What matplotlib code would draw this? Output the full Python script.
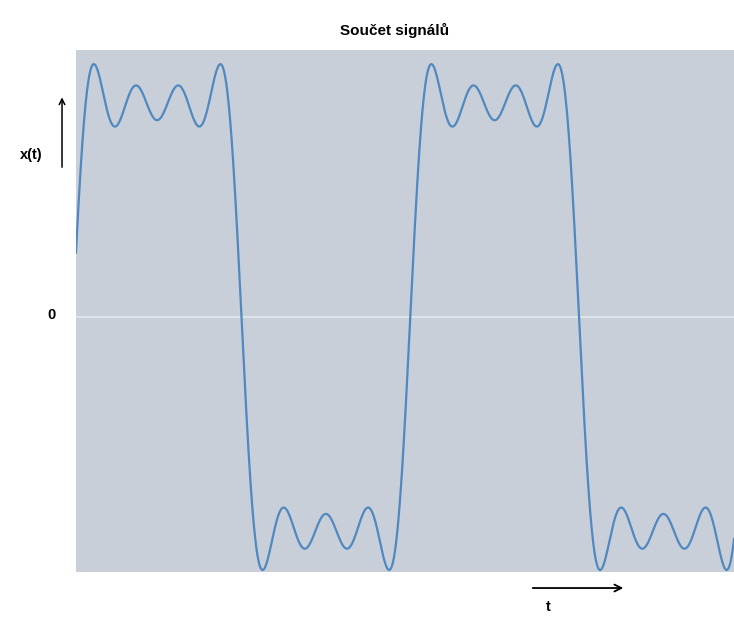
import numpy as np
import matplotlib.pyplot as plt

# odd harmonics that make up the sum (order, amplitude)
harmonics = [1, 3, 5, 7]
amplitudes = [1.0, 1/3, 1/5, 1/7]

title = "Součet signálů"
y_label = "x(t)"
x_label = "t"
zero_label = "0"

plt.rcParams['font.family'] = ['Liberation Sans', 'DejaVu Sans']

fig = plt.figure(figsize=(7.34, 6.18), dpi=100)
ax = fig.add_axes([0.1035, 0.0744, 0.8965, 0.8447])
ax.set_facecolor("#c8cfd9")

t0, t1 = 0.06, 12.31
t = np.linspace(t0, t1, 3000)
x = np.zeros_like(t)
for n, a in zip(harmonics, amplitudes):
    x += a * np.sin(n * t)

ax.axhline(0, color="#e4e9ee", lw=1.2, zorder=1)
ax.plot(t, x, color="#5088c0", lw=1.6, zorder=2)
ax.set_xlim(t0, t1)
ax.set_ylim(-0.9375, 0.982)
ax.set_xticks([])
ax.set_yticks([])
for s in ax.spines.values():
    s.set_visible(False)

fig.text(0.538, 0.951, title, ha="center", va="center", fontsize=11, fontweight="bold")
fig.text(0.042, 0.749, y_label, ha="center", va="center", fontsize=10.5, fontweight="bold")
fig.text(0.0708, 0.490, zero_label, ha="center", va="center", fontsize=10.5, fontweight="bold")
fig.text(0.7466, 0.018, x_label, ha="center", va="center", fontsize=10.5, fontweight="bold")

fig.patches.append(plt.matplotlib.patches.FancyArrowPatch(
    (0.0845, 0.725), (0.0845, 0.847), transform=fig.transFigure,
    arrowstyle="->,head_length=4,head_width=2", color="black", lw=1.1))
fig.patches.append(plt.matplotlib.patches.FancyArrowPatch(
    (0.722, 0.0485), (0.853, 0.0485), transform=fig.transFigure,
    arrowstyle="->,head_length=5,head_width=2.5", color="black", lw=1.3))

fig.savefig("out.png", dpi=100)
